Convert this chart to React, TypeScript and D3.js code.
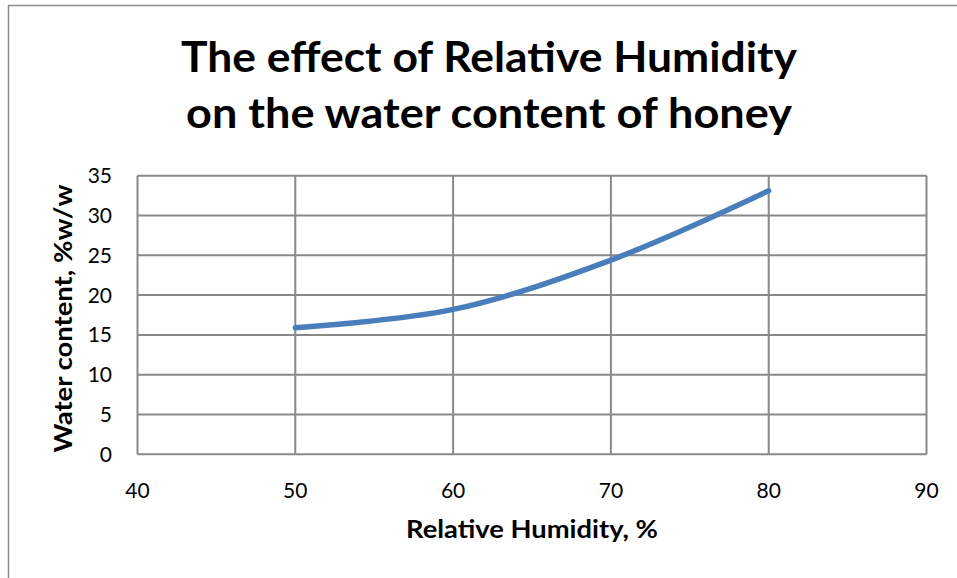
import React from "react";
import * as d3 from "d3";

const humidity = [50, 60, 70, 80];
const waterContent = [15.9, 18.2, 24.4, 33.1];
const xTicks = [40, 50, 60, 70, 80, 90];
const yTicks = [0, 5, 10, 15, 20, 25, 30, 35];
const titleLines = ["The effect of Relative Humidity", "on the water content of honey"];
const xTitle = "Relative Humidity, %";
const yTitle = "Water content, %w/w";

const W = 957;
const H = 578;
const FONT = "Lato, 'Open Sans', sans-serif";

export default function App() {
  const plot = { left: 137.5, right: 926.5, top: 175.7, bottom: 454.3 };
  const x = d3.scaleLinear().domain([40, 90]).range([plot.left, plot.right]);
  const y = d3.scaleLinear().domain([0, 35]).range([plot.bottom, plot.top]);
  const pts: [number, number][] = humidity.map((h, i) => [h, waterContent[i]]);
  const line = d3
    .line<[number, number]>()
    .x((d) => x(d[0]))
    .y((d) => y(d[1]))
    .curve(d3.curveCatmullRom.alpha(0.5));
  const grid = "#898989";
  return (
    <svg
      width={W}
      height={H}
      style={{ position: "absolute", left: 0, top: 0, background: "#fff" }}
    >
      <rect x={0} y={0} width={W} height={H} fill="#fff" />
      {/* outer frame (only top and left visible) */}
      <line x1={8} y1={5.5} x2={W} y2={5.5} stroke="#8c8c8c" strokeWidth={1.5} />
      <line x1={8.5} y1={5} x2={8.5} y2={H} stroke="#8c8c8c" strokeWidth={1.5} />

      {titleLines.map((t, i) => (
        <text
          key={t}
          x={489}
          y={72 + i * 56}
          textAnchor="middle"
          fontFamily={FONT}
          fontWeight={700}
          fontSize={42}
          textLength={i === 0 ? 616 : 606}
          lengthAdjust="spacingAndGlyphs"
          fill="#000"
        >
          {t}
        </text>
      ))}

      {/* grid */}
      {yTicks.map((v) => (
        <line
          key={"gy" + v}
          x1={plot.left}
          x2={plot.right}
          y1={y(v)}
          y2={y(v)}
          stroke={grid}
          strokeWidth={2}
        />
      ))}
      {xTicks.map((v) => (
        <line
          key={"gx" + v}
          x1={x(v)}
          x2={x(v)}
          y1={plot.top}
          y2={plot.bottom}
          stroke={grid}
          strokeWidth={2}
        />
      ))}

      <path
        d={line(pts) || ""}
        fill="none"
        stroke="#4a7ebb"
        strokeWidth={5.5}
        strokeLinecap="round"
        strokeLinejoin="round"
      />

      {yTicks.map((v) => (
        <text
          key={"ty" + v}
          x={112}
          y={y(v) + 7.5}
          textAnchor="end"
          fontFamily={FONT}
          fontSize={21}
          fill="#000"
        >
          {v}
        </text>
      ))}
      {xTicks.map((v) => (
        <text
          key={"tx" + v}
          x={x(v)}
          y={498}
          textAnchor="middle"
          fontFamily={FONT}
          fontSize={21}
          fill="#000"
        >
          {v}
        </text>
      ))}

      <text
        x={532}
        y={538}
        textAnchor="middle"
        fontFamily={FONT}
        fontWeight={700}
        fontSize={25.5}
        textLength={252}
        lengthAdjust="spacingAndGlyphs"
        fill="#000"
      >
        {xTitle}
      </text>
      <text
        transform={`translate(71.5, 318.5) rotate(-90)`}
        textAnchor="middle"
        fontFamily={FONT}
        fontWeight={700}
        fontSize={25.5}
        textLength={268}
        lengthAdjust="spacingAndGlyphs"
        fill="#000"
      >
        {yTitle}
      </text>
    </svg>
  );
}
